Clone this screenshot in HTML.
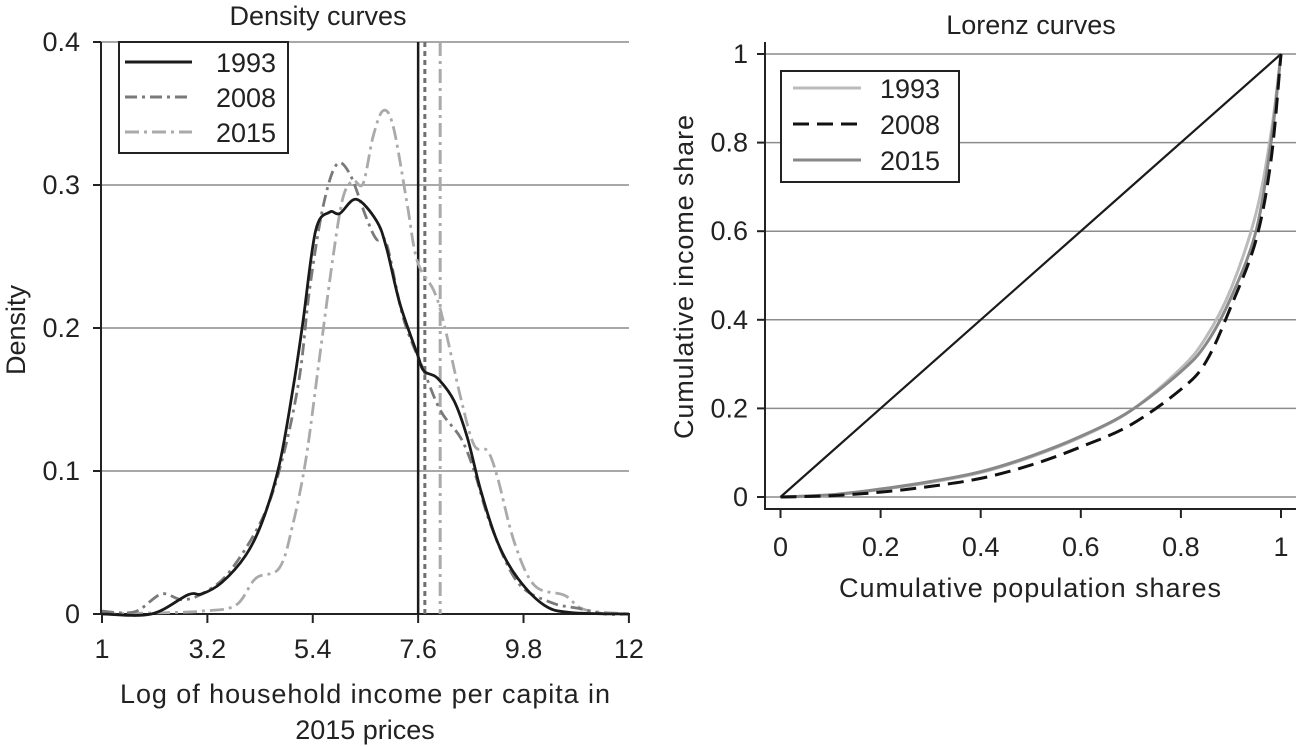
<!DOCTYPE html>
<html><head><meta charset="utf-8"><style>
body{margin:0;background:#fff;}
svg{display:block;font-family:"Liberation Sans",Arial,sans-serif;}
</style></head><body>
<svg id="s" width="1296" height="747" viewBox="0 0 1296 747" xmlns="http://www.w3.org/2000/svg"></svg>
<script>
// ---- Density data ----
const dX1993=[1,2.03,2.8,3.08,3.5,4.0,4.35,4.7,4.98,5.19,5.46,5.75,5.96,6.31,6.73,6.94,7.22,7.58,7.72,8.0,8.35,8.63,8.91,9.26,9.68,10.24,10.8,12];
const dY1993=[0,0,0.0135,0.014,0.022,0.041,0.065,0.104,0.156,0.203,0.268,0.281,0.280,0.290,0.275,0.256,0.217,0.182,0.170,0.165,0.149,0.123,0.086,0.050,0.025,0.006,0.001,0];
const dX2008=[1,1.68,2.24,2.66,3.08,3.65,4.35,4.77,5.12,5.33,5.61,5.89,6.17,6.52,6.73,6.94,7.29,7.72,8.07,8.49,8.77,9.12,9.68,10.38,10.94,11.5,12];
const dY2008=[0.002,0.0015,0.014,0.010,0.014,0.029,0.067,0.109,0.165,0.226,0.284,0.314,0.308,0.277,0.262,0.259,0.207,0.170,0.142,0.123,0.100,0.062,0.022,0.008,0.004,0,0];
const dX2015=[1,2.38,3.08,3.79,4.21,4.70,4.98,5.26,5.54,5.82,6.03,6.24,6.45,6.66,6.87,7.08,7.36,7.58,7.93,8.14,8.49,8.77,9.05,9.26,9.61,10.03,10.66,11.08,12];
const dY2015=[0,0.001,0.002,0.006,0.025,0.032,0.062,0.109,0.179,0.249,0.291,0.303,0.301,0.334,0.352,0.341,0.289,0.247,0.226,0.203,0.151,0.118,0.114,0.095,0.050,0.020,0.013,0.003,0];
const meanVals=[7.6,7.74,8.06];
const dXTicks=[1,3.2,5.4,7.6,9.8,12];
const dYTicks=[0,0.1,0.2,0.3,0.4];
// ---- Lorenz data ----
const lP=[0,0.1,0.2,0.3,0.4,0.5,0.6,0.7,0.8,0.85,0.9,0.95,0.98,1];
const l1993=[0,0.004,0.017,0.033,0.055,0.09,0.135,0.195,0.29,0.36,0.47,0.64,0.82,1];
const l2008=[0,0.003,0.011,0.024,0.042,0.072,0.113,0.163,0.243,0.305,0.43,0.58,0.76,1];
const l2015=[0,0.005,0.018,0.035,0.057,0.092,0.137,0.195,0.283,0.345,0.45,0.60,0.80,1];
const lTicks=[0,0.2,0.4,0.6,0.8,1];

const NS="http://www.w3.org/2000/svg";
const svg=document.getElementById('s');
const FS=27;
function mk(tag,attrs,parent){const e=document.createElementNS(NS,tag);for(const k in attrs)e.setAttribute(k,attrs[k]);(parent||svg).appendChild(e);return e;}
function smooth(pts){let d="M"+pts[0][0].toFixed(1)+","+pts[0][1].toFixed(1);
 for(let i=0;i<pts.length-1;i++){const p0=pts[i-1]||pts[i],p1=pts[i],p2=pts[i+1],p3=pts[i+2]||p2;
  const c1=[p1[0]+(p2[0]-p0[0])/6,p1[1]+(p2[1]-p0[1])/6],c2=[p2[0]-(p3[0]-p1[0])/6,p2[1]-(p3[1]-p1[1])/6];
  d+=" C"+c1[0].toFixed(1)+","+c1[1].toFixed(1)+" "+c2[0].toFixed(1)+","+c2[1].toFixed(1)+" "+p2[0].toFixed(1)+","+p2[1].toFixed(1);}
 return d;}

// Left axes
const dx=v=>102+(v-1)*47.9;
const dy=v=>614-v*1430;
let t;
dYTicks.forEach(v=>{ if(v>0){const g=mk('line',{x1:101,x2:629,y1:dy(v),y2:dy(v),stroke:'#8c8c8c','stroke-width':1.5});
 }
 const tk=mk('line',{x1:93,x2:101,y1:dy(v),y2:dy(v),stroke:'#222','stroke-width':2});
 
 t=mk('text',{x:80,y:dy(v)+9,'text-anchor':'end','font-size':FS,fill:'#222'});t.textContent=v===0?'0':v.toFixed(1);
 });
dXTicks.forEach(v=>{const tk=mk('line',{x1:dx(v),x2:dx(v),y1:614,y2:623,stroke:'#222','stroke-width':2});
 
 t=mk('text',{x:dx(v),y:658,'text-anchor':'middle','font-size':FS,fill:'#222'});t.textContent=String(v);
 });
let a=mk('line',{x1:101,x2:101,y1:42,y2:615,stroke:'#222','stroke-width':2});
a=mk('line',{x1:100,x2:630,y1:614,y2:614,stroke:'#222','stroke-width':2});

const meanStyles=[['#1a1a1a','none',2.5],['#707070','5,4',3],['#aaaaaa','14,5,3,5',3]];
meanVals.forEach((m,i)=>{const l=mk('line',{x1:dx(m),x2:dx(m),y1:42,y2:614,stroke:meanStyles[i][0],'stroke-dasharray':meanStyles[i][1],'stroke-width':meanStyles[i][2]});
 });

const dSeries=[[dX2015,dY2015,'#aaaaaa','14,5,3,5','density-2015'],[dX2008,dY2008,'#7a7a7a','12,5,3,5','density-2008'],[dX1993,dY1993,'#1a1a1a','none','density-1993']];
dSeries.forEach(s=>{const pts=s[0].map((x,i)=>[dx(x),dy(s[1][i])]);
 const p=mk('path',{d:smooth(pts),fill:'none',stroke:s[2],'stroke-width':2.8,'stroke-dasharray':s[3],'stroke-linejoin':'round'});
 });

let lg=mk('rect',{x:119,y:42,width:169,height:111,fill:'#fff',stroke:'#222','stroke-width':2});

[['1993','#1a1a1a','none'],['2008','#7a7a7a','12,5,3,5'],['2015','#aaaaaa','14,5,3,5']].forEach((e,i)=>{const y=62+i*35;
 const l=mk('line',{x1:125,x2:192,y1:y,y2:y,stroke:e[1],'stroke-width':3,'stroke-dasharray':e[2]});
 
 t=mk('text',{x:216,y:y+10,'font-size':FS,fill:'#222'});t.textContent=e[0];
 });

t=mk('text',{x:318,y:25,'text-anchor':'middle','font-size':FS,fill:'#222'});t.textContent='Density curves';
t=mk('text',{x:0,y:0,'text-anchor':'middle','font-size':FS,fill:'#222',transform:'translate(25,330) rotate(-90)'});t.textContent='Density';
t=mk('text',{x:365,y:703,'text-anchor':'middle','font-size':FS,fill:'#222',textLength:490});t.textContent='Log of household income per capita in';
t=mk('text',{x:365,y:739,'text-anchor':'middle','font-size':FS,fill:'#222'});t.textContent='2015 prices';

// Right axes
const lx=v=>780.5+v*500.5;
const ly=v=>497-v*443;
lTicks.forEach(v=>{const g=mk('line',{x1:765,x2:1296,y1:ly(v),y2:ly(v),stroke:'#8c8c8c','stroke-width':1.5});
 
 let tk=mk('line',{x1:757,x2:765,y1:ly(v),y2:ly(v),stroke:'#222','stroke-width':2});
 t=mk('text',{x:748,y:ly(v)+9,'text-anchor':'end','font-size':FS,fill:'#222'});t.textContent=String(v);
 tk=mk('line',{x1:lx(v),x2:lx(v),y1:509,y2:518,stroke:'#222','stroke-width':2});
 t=mk('text',{x:lx(v),y:556,'text-anchor':'middle','font-size':FS,fill:'#222'});t.textContent=String(v);});
a=mk('line',{x1:765,x2:765,y1:42,y2:510,stroke:'#222','stroke-width':2});
a=mk('line',{x1:764,x2:1296,y1:509,y2:509,stroke:'#222','stroke-width':2});
a=mk('line',{x1:lx(0),y1:ly(0),x2:lx(1),y2:ly(1),stroke:'#1a1a1a','stroke-width':2.2});

[[l1993,'#bbbbbb','none','lorenz-1993'],[l2015,'#888888','none','lorenz-2015'],[l2008,'#111111','16,8','lorenz-2008']].forEach(s=>{
 const pts=lP.map((p,i)=>[lx(p),ly(s[0][i])]);
 const p=mk('path',{d:smooth(pts),fill:'none',stroke:s[1],'stroke-width':3,'stroke-dasharray':s[2]});
 });

lg=mk('rect',{x:781,y:71,width:178,height:111,fill:'#fff',stroke:'#222','stroke-width':2});

[['1993','#bbbbbb','none'],['2008','#111111','16,8'],['2015','#888888','none']].forEach((e,i)=>{const y=88+i*36;
 const l=mk('line',{x1:793,x2:861,y1:y,y2:y,stroke:e[1],'stroke-width':3,'stroke-dasharray':e[2]});
 
 t=mk('text',{x:880,y:y+10,'font-size':FS,fill:'#222'});t.textContent=e[0];
 });

t=mk('text',{x:1031,y:34,'text-anchor':'middle','font-size':FS,fill:'#222'});t.textContent='Lorenz curves';
t=mk('text',{x:0,y:0,'text-anchor':'middle','font-size':FS,fill:'#222',transform:'translate(693,277) rotate(-90)',textLength:324});t.textContent='Cumulative income share';
t=mk('text',{x:1030,y:597,'text-anchor':'middle','font-size':FS,fill:'#222',textLength:382});t.textContent='Cumulative population shares';
</script>
</body></html>
